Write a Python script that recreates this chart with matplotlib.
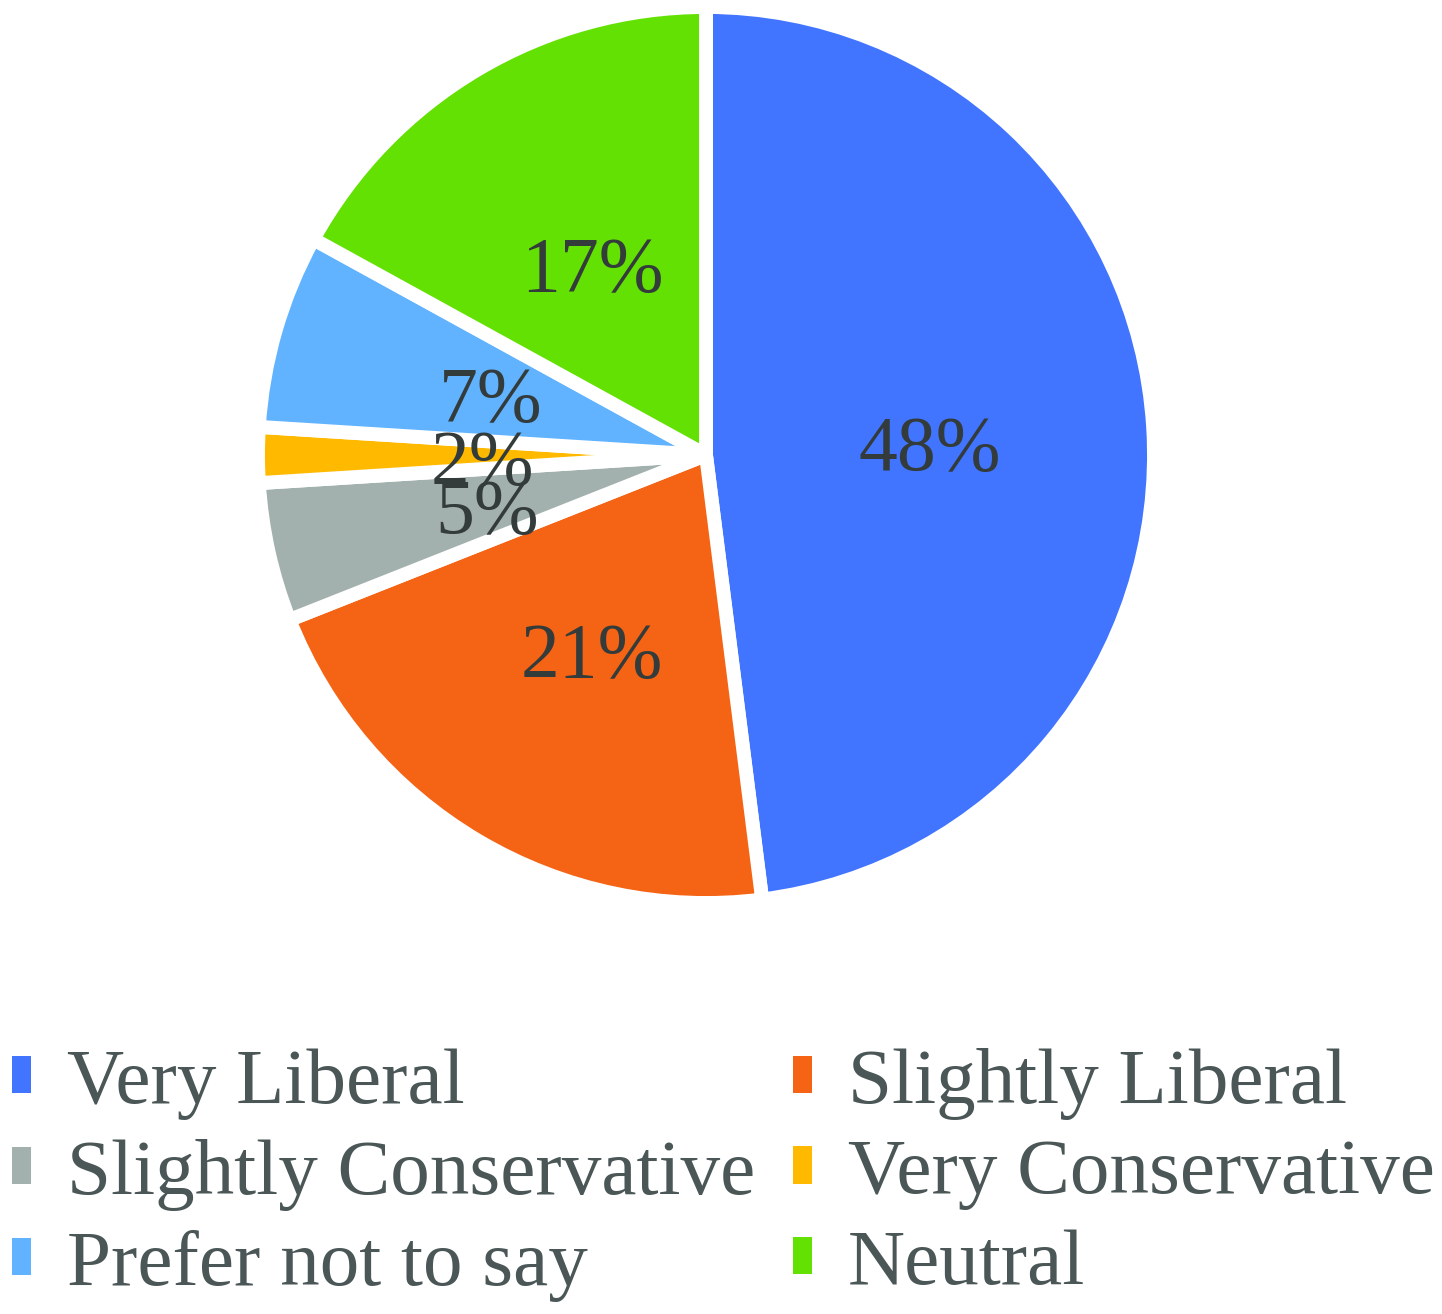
import matplotlib
matplotlib.use("Agg")
import matplotlib.pyplot as plt
from matplotlib.patches import Patch

categories = ["Very Liberal", "Slightly Liberal", "Slightly Conservative",
              "Very Conservative", "Prefer not to say", "Neutral"]
values = [48, 21, 5, 2, 7, 17]
colors = ["#4175FF", "#F56314", "#A2B0AE", "#FFBA00", "#61B3FF", "#63E103"]

plt.rcParams['font.family'] = ['Liberation Serif', 'DejaVu Serif']

W, H = 1442, 1314
fig = plt.figure(figsize=(W / 100, H / 100), dpi=100)
cx, cy, r = 706, 455, 448
ax = fig.add_axes([(cx - r) / W, (H - cy - r) / H, 2 * r / W, 2 * r / H])
wedges, texts, autotexts = ax.pie(
    values, colors=colors, startangle=90, counterclock=False,
    autopct='%.0f%%', pctdistance=0.5, radius=1.0,
    wedgeprops=dict(edgecolor='white', linewidth=10, joinstyle='round'),
    textprops=dict(fontsize=56, color='#333b3b'))
for t in autotexts:
    x, y = t.get_position()
    t.set_position((x, y - 10 / r))
ax.set_xlim(-1, 1)
ax.set_ylim(-1, 1)
ax.set_aspect('equal')
ax.axis('off')

handles = [Patch(facecolor=c, edgecolor='none') for c in colors]
order = [0, 2, 4, 1, 3, 5]
leg = fig.legend([handles[i] for i in order], [categories[i] for i in order],
                 ncol=2, loc='upper left', bbox_to_anchor=(0.003, 1 - 1040 / H),
                 frameon=False, fontsize=57, handlelength=0.24, handleheight=0.35,
                 handletextpad=0.45, columnspacing=0.48, labelspacing=0.24,
                 borderaxespad=0, borderpad=0.1)
for t in leg.get_texts():
    t.set_color('#4B5657')

fig.savefig('out.png', dpi=100, facecolor='white')
